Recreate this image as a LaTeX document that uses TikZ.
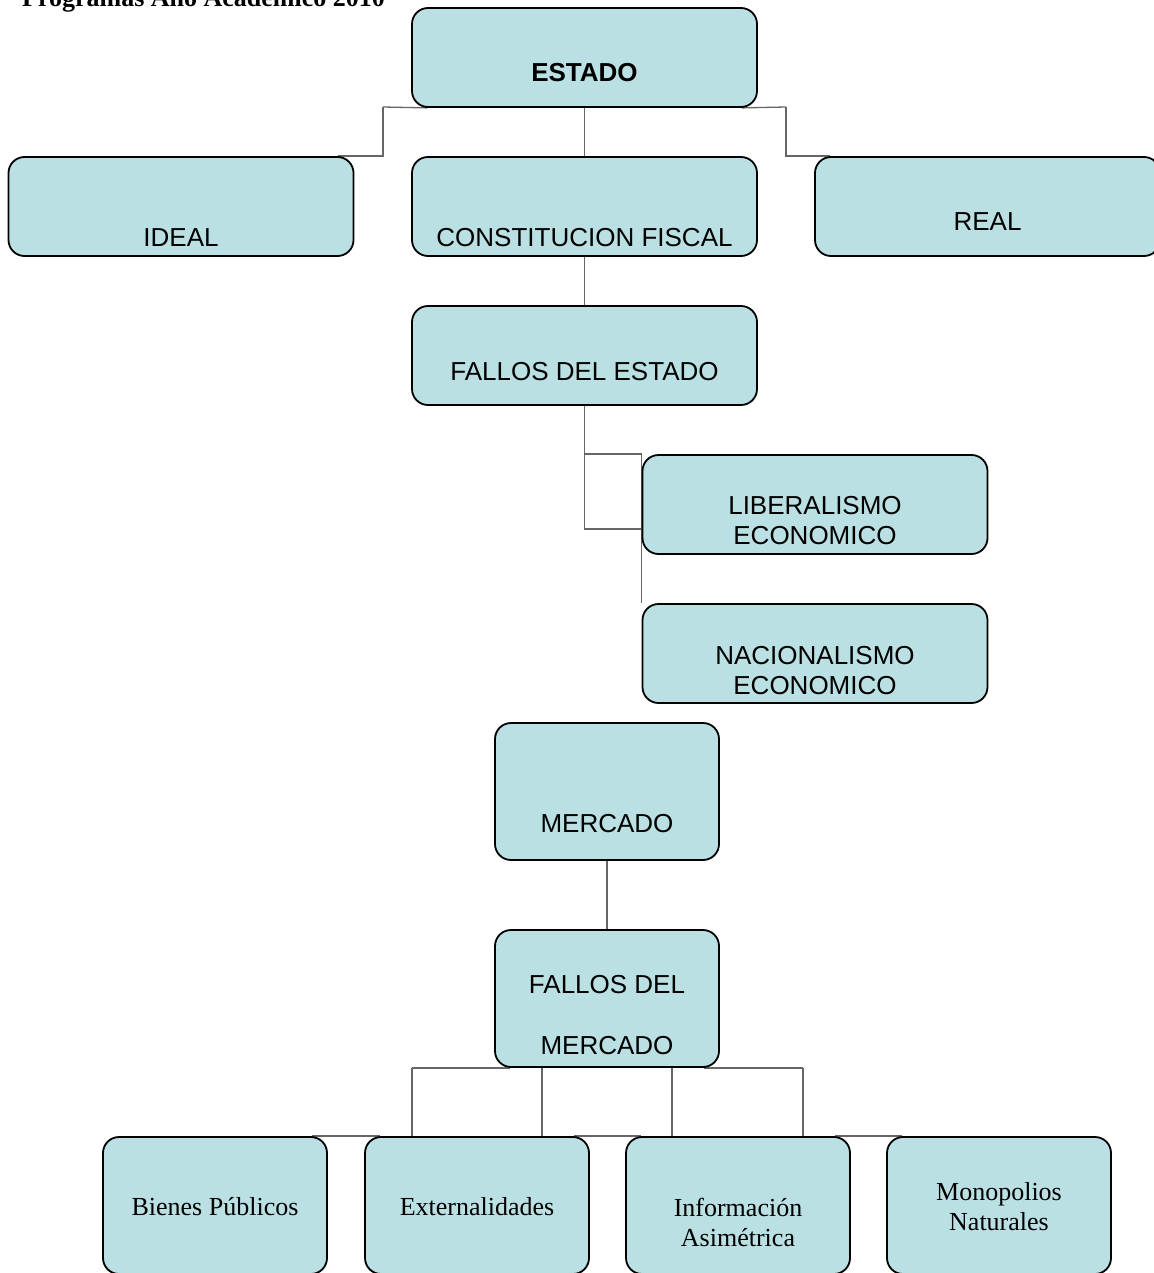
\documentclass[tikz,border=0pt]{standalone}
\usepackage{fontspec}
\setmainfont{Liberation Serif}
\newfontfamily\arial{Liberation Sans}
\usetikzlibrary{backgrounds}
\definecolor{cajaazul}{RGB}{186,224,227}
\tikzset{
  caja/.style={draw=black, line width=1.8pt, fill=cajaazul, rounded corners=16pt, inner sep=0pt},
  ancha/.style={caja, minimum width=345pt, minimum height=99pt},
  alta/.style={caja, minimum width=224pt, minimum height=137pt},
  rotulo/.style={font=\arial\fontsize{26}{30}\selectfont, align=center, inner sep=0pt},
  letra/.style={font=\fontsize{26}{30}\selectfont, align=center, inner sep=0pt},
  linea/.style={draw=black!60, line width=1.3pt}
}

\begin{document}
\begin{tikzpicture}[x=1pt,y=-1pt]
\useasboundingbox (0,0) rectangle (1153,1273);
\node[font=\bfseries\fontsize{26}{30}\selectfont, anchor=base west, inner sep=0pt] (titulo) at (22,7) {Programas Año Académico 2010};
% estado
\node[ancha] (estado) at (584.5,57.5) {};
\node[rotulo, font=\arial\bfseries\fontsize{26}{30}\selectfont] (estadoT) at (584.5,73) {ESTADO};
\node[ancha] (ideal) at (181,206.5) {};
\node[rotulo] (idealT) at (181,238) {IDEAL};
\node[ancha] (cf) at (584.5,206.5) {};
\node[rotulo] (cfT) at (584.5,238) {CONSTITUCION FISCAL};
\node[ancha] (real) at (987.5,206.5) {};
\node[rotulo] (realT) at (987.5,222) {REAL};
\node[ancha] (fde) at (584.5,355.5) {};
\node[rotulo] (fdeT) at (584.5,372) {FALLOS DEL ESTADO};
\node[ancha] (lib) at (815,504.5) {};
\node[rotulo] (libT) at (815,521) {LIBERALISMO\\ECONOMICO};
\node[ancha] (nac) at (815,653.5) {};
\node[rotulo] (nacT) at (815,670.5) {NACIONALISMO\\ECONOMICO};
% mercado
\node[alta] (mercado) at (607,791.5) {};
\node[rotulo] (mercadoT) at (607,824) {MERCADO};
\node[alta] (fdm) at (607,998.5) {};
\node[rotulo] (fdmT) at (607,1015.5) {FALLOS DEL\\[31pt]MERCADO};
\node[alta] (bienes) at (215,1205.5) {};
\node[letra] (bienesT) at (215,1207) {Bienes Públicos};
\node[alta] (ext) at (477,1205.5) {};
\node[letra] (extT) at (477,1207) {Externalidades};
\node[alta] (inf) at (738,1205.5) {};
\node[letra] (infT) at (738,1222) {Información\\Asimétrica};
\node[alta] (mono) at (999,1205.5) {};
\node[letra] (monoT) at (999,1207) {Monopolios\\Naturales};
% conectores
\begin{scope}[on background layer]
\coordinate (codoI) at (383,107);
\coordinate (codoR) at (786,107);
\coordinate (codoL) at (642,529);
\draw[linea] (codoI) -- ([xshift=16pt]estado.south west);
\draw[linea] ([xshift=-16pt]estado.south east) -- (codoR);
\draw[linea] (estado.south) -- (cf.north);
\draw[linea] (codoI) |- ([xshift=-16pt]ideal.north east);
\draw[linea] (codoR) |- ([xshift=16pt]real.north west);
\draw[linea] (cf.south) -- (fde.north);
\draw[linea] (fde.south) |- (codoL);
\draw[linea] (fde.south |- lib.north) -- (lib.north west) -- (nac.north west);
\draw[linea] (mercado.south) -- (fdm.north);
\draw[linea] (fdm.south -| 412,0) -- ([xshift=16pt]fdm.south west);
\draw[linea] ([xshift=-16pt]fdm.south east) -- (fdm.south -| 803,0);
\foreach \x/\hijo in {412/ext,542/ext,672/inf,803/inf}
  \draw[linea] (fdm.south -| \x,0) -- (\hijo.north -| \x,0);
\draw[linea] ([xshift=-16pt]bienes.north east) -- ([xshift=16pt]ext.north west);
\draw[linea] ([xshift=-16pt]ext.north east) -- ([xshift=16pt]inf.north west);
\draw[linea] ([xshift=-16pt]inf.north east) -- ([xshift=16pt]mono.north west);
\end{scope}
\end{tikzpicture}
\end{document}
